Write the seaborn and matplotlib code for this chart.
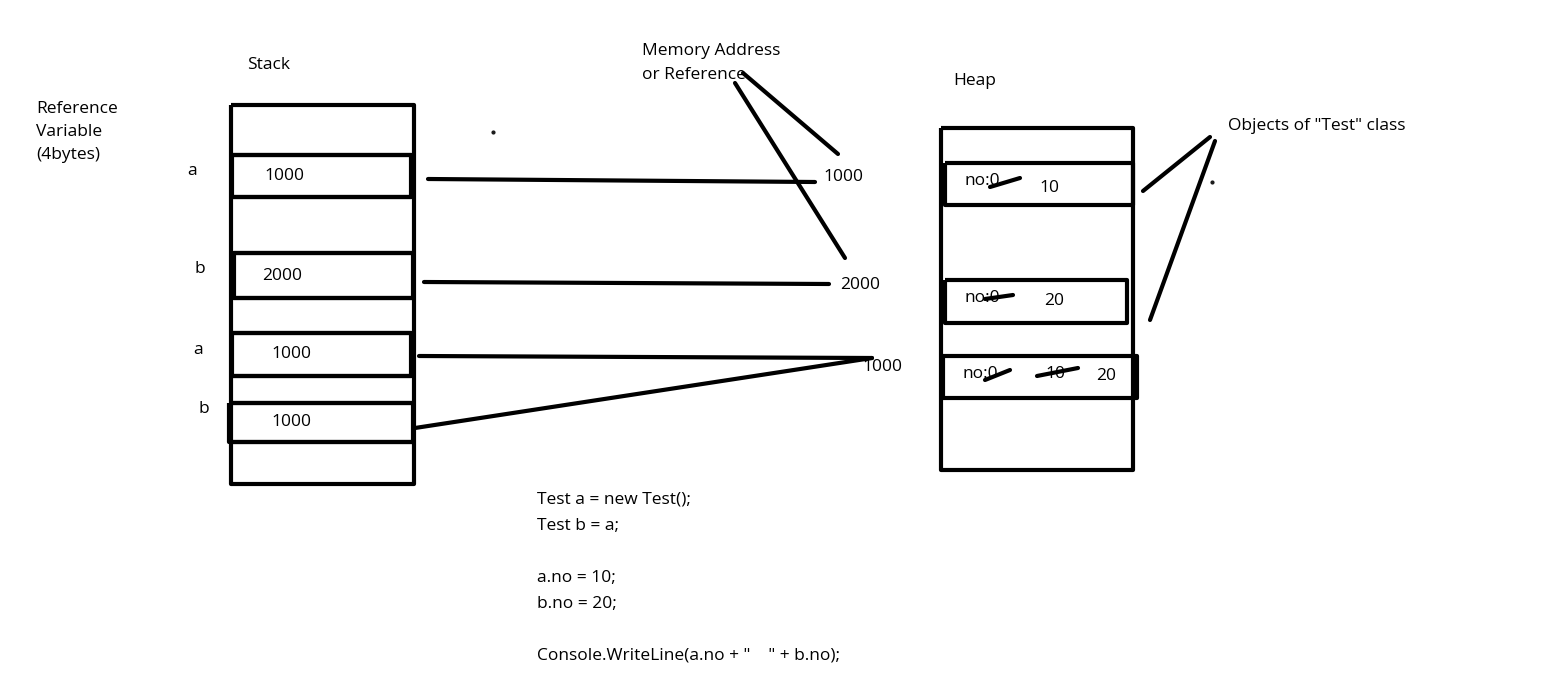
import matplotlib
matplotlib.use("Agg")
import matplotlib.pyplot as plt
import seaborn as sns

sns.set_theme(style="white")
plt.rcParams['font.family'] = ['Open Sans', 'DejaVu Sans']
plt.rcParams['text.color'] = 'black'

# stack slots: (name, address)
stack_names = ["a", "b", "a", "b"]
stack_values = ["1000", "2000", "1000", "1000"]
address_labels = ["1000", "2000", "1000"]
heap_labels = ["no:", "no:", "no:"]
heap_struck = ["0", "0", "0"]
heap_values = ["10", "20", "20"]
code_lines = ["Test a = new Test();", "Test b = a;", "", "a.no = 10;", "b.no = 20;", "",
              'Console.WriteLine(a.no + "    " + b.no);']

fig = plt.figure(figsize=(15.48, 6.86), dpi=100)
ax = fig.add_axes([0, 0, 1, 1])
ax.set_xlim(0, 1548)
ax.set_ylim(686, 0)
ax.axis("off")

def rect(x0, y0, x1, y1, lw=3):
    ax.plot([x0, x1, x1, x0, x0], [y0, y0, y1, y1, y0], color="black", lw=lw, solid_capstyle="butt")

def line(x0, y0, x1, y1, lw=3):
    ax.plot([x0, x1], [y0, y1], color="black", lw=lw, solid_capstyle="round")

fs = 12.5
# stack
rect(231, 105, 414, 484)
for y in [155, 197, 253, 298, 333, 376, 403, 442]:
    line(231, y, 414, y)
slot_boxes = [(232, 155, 411, 197), (234, 253, 413, 298), (232, 333, 411, 376), (229, 403, 413, 442)]
slot_text_x = [264, 262, 271, 271]
name_pos = [(187, 171), (194, 269), (193, 350), (199, 409)]
for (x0, y0, x1, y1), tx, (nx, ny), n, v in zip(slot_boxes, slot_text_x, name_pos, stack_names, stack_values):
    rect(x0, y0, x1, y1)
    ax.text(tx, (y0 + y1) / 2, v, fontsize=fs, va="center")
    ax.text(nx, ny, n, fontsize=fs, va="center")

ax.text(247, 65, "Stack", fontsize=fs, va="center")
ax.text(36, 132, "Reference\nVariable\n(4bytes)", fontsize=fs, va="center", linespacing=1.6)

# arrows to addresses
line(428, 179, 815, 182)
line(424, 282, 829, 284)
line(419, 356, 872, 358)
line(415, 428, 872, 358)
for (x, y), t in zip([(823, 177), (840, 285), (862, 367)], address_labels):
    ax.text(x, y, t, fontsize=fs, va="center")
ax.text(642, 63, "Memory Address\nor Reference", fontsize=fs, va="center", linespacing=1.6)
line(743, 73, 838, 154)
line(735, 83, 845, 258)
ax.plot([493], [132], "k.", ms=4)

# heap
ax.text(953, 81, "Heap", fontsize=fs, va="center")
rect(941, 128, 1133, 470)
heap_boxes = [(945, 163, 1133, 205), (945, 280, 1127, 323), (943, 356, 1137, 398)]
for (x0, y0, x1, y1), lab, s, v in zip(heap_boxes, heap_labels, heap_struck, heap_values):
    rect(x0, y0, x1, y1)
    yc = (y0 + y1) / 2
    ax.text(x0 + 20, yc - 3, lab + s, fontsize=fs, va="center")
ax.text(1039, 188, heap_values[0], fontsize=fs, va="center")
ax.text(1044, 301, heap_values[1], fontsize=fs, va="center")
ax.text(1045, 374, "10", fontsize=fs, va="center")
ax.text(1096, 376, heap_values[2], fontsize=fs, va="center")
line(990, 187, 1020, 178)
line(985, 299, 1013, 295)
line(985, 380, 1010, 370)
line(1037, 376, 1078, 368)

ax.text(1228, 126, 'Objects of "Test" class', fontsize=fs, va="center")
line(1143, 191, 1210, 137)
line(1150, 320, 1215, 141)
ax.plot([1212], [182], "k.", ms=4)

# code
for i, c in enumerate(code_lines):
    ax.text(537, 500 + i * 26, c, fontsize=fs, va="center")

fig.savefig("out.png", dpi=100, facecolor="white")
